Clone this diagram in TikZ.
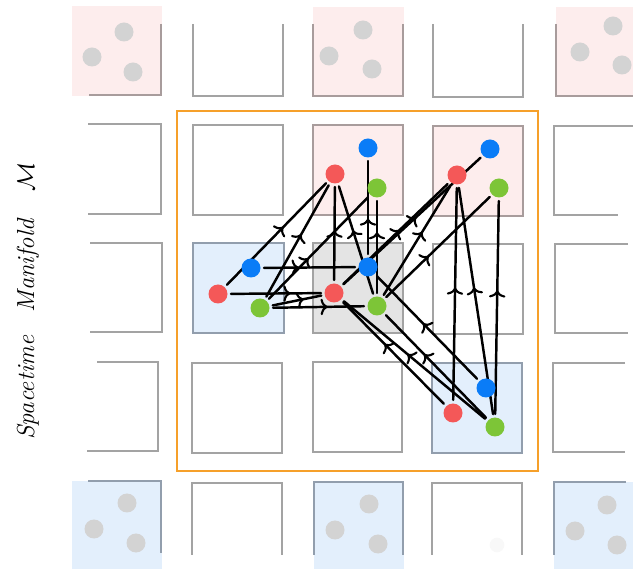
\documentclass[tikz,border=0pt]{standalone}
\usetikzlibrary{arrows.meta,decorations.markings}
\definecolor{pinkf}{HTML}{FDEDED}
\definecolor{bluef}{HTML}{E3EFFC}
\definecolor{grayf}{HTML}{E4E4E4}
\definecolor{edge}{HTML}{A3A3A3}
\definecolor{edgep}{HTML}{A89C9C}
\definecolor{edgeb}{HTML}{929EAD}
\definecolor{dred}{HTML}{F45858}
\definecolor{dblue}{HTML}{0A7CF7}
\definecolor{dgreen}{HTML}{7DC537}
\definecolor{dgray}{HTML}{D3D3D3}
\definecolor{faint}{HTML}{F8F8F8}
\definecolor{framec}{HTML}{F6A02A}
\pgfdeclarelayer{bg}
\pgfdeclarelayer{lines}
\pgfsetlayers{bg,lines,main}
\begin{document}
\begin{tikzpicture}[x=0.03cm,y=-0.03cm,
  cell/.style={draw=edge,line width=1.5pt},
  pcell/.style={draw=edgep,line width=1.5pt,fill=pinkf},
  bcell/.style={draw=edgeb,line width=1.5pt,fill=bluef},
  dot/.style={circle,inner sep=0pt,minimum size=0.57cm,outer sep=3pt},
  conn/.style={line width=2.1pt,line cap=round,postaction={decorate},
    decoration={markings,mark=at position #1 with
      {\arrow{Computer Modern Rightarrow[length=6pt,width=14pt,line width=1.8pt]}}}}
]
\useasboundingbox (0,0) rectangle (633,569);

\begin{pgfonlayer}{bg}
% ---- row 0 (partial cells)
\fill[pinkf] (72,6) rectangle (162,96);
\draw[draw=edgep,line width=1.5pt] (161,24) -- (161,95) -- (89,95);
\draw[cell] (193,24) -- (193,96) -- (283,96) -- (283,24);
\fill[pinkf] (313,7) rectangle (404,96);
\draw[draw=edgep,line width=1.5pt] (313,24) -- (313,96) -- (403,96) -- (403,24);
\draw[cell] (433,24) -- (433,97) -- (523,97) -- (523,24);
\fill[pinkf] (556,7) rectangle (633,96);
\draw[draw=edgep,line width=1.5pt] (556,24) -- (556,96) -- (633,96);
% ---- left column
\draw[cell] (88,124) -- (161,124) -- (161,214) -- (88,214);
\draw[cell] (90,243) -- (162,243) -- (162,332) -- (90,332);
\draw[cell] (97,362) -- (158,362) -- (158,451) -- (87,451);
% ---- right column
\draw[cell] (633,126) -- (554,126) -- (554,215) -- (618,215);
\draw[cell] (628,244) -- (555,244) -- (555,333) -- (628,333);
\draw[cell] (625,363) -- (553,363) -- (553,452) -- (625,452);
% ---- bottom row
\fill[bluef] (72,481) rectangle (162,569);
\draw[draw=edgeb,line width=1.5pt] (88,481) -- (161,481) -- (161,553);
\draw[cell] (192,555) -- (192,483) -- (282,483) -- (282,555);
\fill[bluef] (314,482) rectangle (404,569);
\draw[draw=edgeb,line width=1.5pt] (314,555) -- (314,482) -- (403,482) -- (403,555);
\draw[cell] (432,555) -- (432,483) -- (522,483) -- (522,555);
\fill[bluef] (554,482) rectangle (633,569);
\draw[draw=edgeb,line width=1.5pt] (554,555) -- (554,482) -- (626,482);
% ---- inner 3x3
\draw[cell] (193,125) rectangle (283,215);
\draw[pcell] (313,125) rectangle (403,215);
\draw[pcell] (433,126) rectangle (523,216);
\draw[bcell] (193,243) rectangle (284,333);
\draw[cell,fill=grayf] (313,243) rectangle (403,333);
\draw[cell] (433,244) rectangle (523,334);
\draw[cell] (192,363) rectangle (282,453);
\draw[cell] (313,362) rectangle (402,452);
\draw[bcell] (432,363) rectangle (522,453);
% ---- frame
\draw[framec,line width=1.8pt] (177,111) rectangle (538,471);
% ---- gray dots
\foreach \p in {(124,32),(92,57),(133,72),(363,30),(329,56),(372,69),
  (613,26),(580,52),(622,65),(127,503),(94,529),(136,543),
  (369,504),(335,530),(378,544),(607,505),(575,531),(617,545)}
  \fill[dgray] \p circle[radius=0.285cm];
\fill[faint] (497,545) circle[radius=0.22cm];
\end{pgfonlayer}

% ---- coloured dots
\node[dot,fill=dblue]  (b1) at (368,148) {};
\node[dot,fill=dred]   (r1) at (335,174) {};
\node[dot,fill=dgreen] (g1) at (377,188) {};
\node[dot,fill=dblue]  (b2) at (490,149) {};
\node[dot,fill=dred]   (r2) at (457,175) {};
\node[dot,fill=dgreen] (g2) at (499,188) {};
\node[dot,fill=dblue]  (bA) at (251,268) {};
\node[dot,fill=dred]   (rA) at (218,294) {};
\node[dot,fill=dgreen] (gA) at (260,308) {};
\node[dot,fill=dblue]  (bG) at (368,267) {};
\node[dot,fill=dred]   (rG) at (334,293) {};
\node[dot,fill=dgreen] (gG) at (377,306) {};
\node[dot,fill=dblue]  (bB) at (486,388) {};
\node[dot,fill=dred]   (rB) at (453,413) {};
\node[dot,fill=dgreen] (gB) at (495,427) {};

\begin{pgfonlayer}{lines}
\draw[conn=0.57] (rA) -- (r1);
\draw[conn=0.56] (gA) -- (r1);
\draw[conn=0.40] (gA) -- (g1);
\draw[conn=0.38] (bA) -- (bG);
\draw[conn=0.66] (rA) -- (rG);
\draw[conn=0.64] (gA) -- (rG);
\draw[conn=0.60] (gA) -- (gG);
\draw[conn=0.53] (rG) -- (r1);
\draw[conn=0.38] (bG) -- (b1);
\draw[conn=0.66] (gG) -- (g1);
\draw[conn=0.59] (gG) -- (r1);
\draw[conn=0.54] (rG) -- (r2);
\draw[conn=0.53] (rG) -- (b2);
\draw[conn=0.58] (gG) -- (r2);
\draw[conn=0.41] (gG) -- (g2);
\draw[conn=0.53] (rB) -- (r2);
\draw[conn=0.56] (gB) -- (r2);
\draw[conn=0.58] (gB) -- (g2);
\draw[conn=0.59] (rB) -- (rG);
\draw[conn=0.55] (gB) -- (rG);
\draw[conn=0.62] (gB) -- (gG);
\draw[conn=0.54] (bB) -- (bG);
\end{pgfonlayer}

\node[rotate=90] (lbl) at (28,301) {\fontsize{21}{25}\selectfont\itshape Spacetime\hspace{20pt}Manifold\hspace{24pt}$\mathcal{M}$};
\end{tikzpicture}
\end{document}
